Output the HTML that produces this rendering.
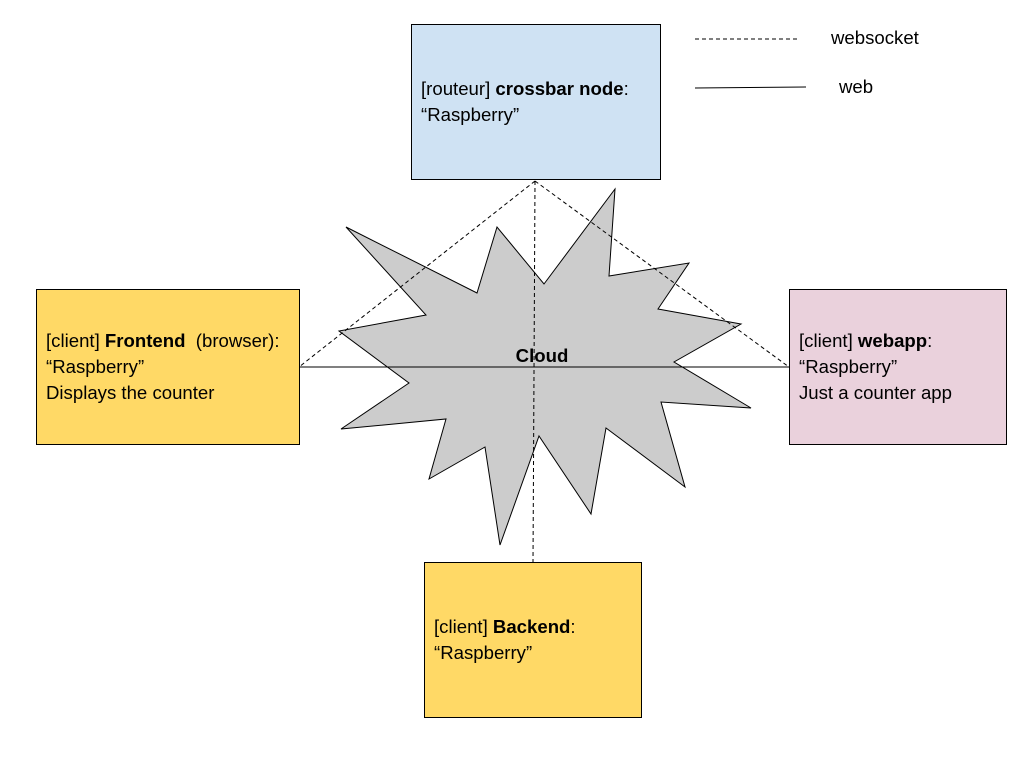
<!DOCTYPE html>
<html><head><style>
body{margin:0;width:1024px;height:768px;background:#fff;position:relative;overflow:hidden;font-family:"Liberation Sans",Arial,sans-serif;}
.b{position:absolute;box-sizing:border-box;border:1px solid #000;font-size:18.6px;line-height:26px;padding-left:9px;display:flex;flex-direction:column;justify-content:center;white-space:nowrap;}
.t{position:absolute;font-size:18.6px;}
</style></head><body>
<svg width="1024" height="768" style="position:absolute;left:0;top:0">
<polygon points="346,227 477,293 497,227 544,284 615,189 609,276 689,263 658,309 741,324 674,362 751,408 661,402 685,487 606,428 591,514 539,436 500,545 485,447 429,479 446,419 341,429 409,383 339,331 426,315" fill="#cccccc" stroke="#000" stroke-width="1"/>
<g stroke="#000" stroke-width="1" fill="none">
<path d="M535,181 L299,367 M535,181 L789,367 M535,181 L533,562" stroke-dasharray="4,3"/>
<path d="M299,367 L789,367"/>
<path d="M695,39 L797,39" stroke-dasharray="4,3"/>
<path d="M695,88 L806,87"/>
</g>
<text x="542" y="362" font-family="Liberation Sans,Arial,sans-serif" font-size="18.6" font-weight="bold" text-anchor="middle">Cloud</text>
</svg>
<div class="b" style="left:411px;top:24px;width:250px;height:156px;background:#cfe2f3"><div>[routeur] <b>crossbar node</b>:</div><div>“Raspberry”</div></div>
<div class="b" style="left:36px;top:289px;width:264px;height:156px;background:#ffd966"><div>[client] <b>Frontend</b>&nbsp; (browser):</div><div>“Raspberry”</div><div>Displays the counter</div></div>
<div class="b" style="left:789px;top:289px;width:218px;height:156px;background:#ead1dc"><div>[client] <b>webapp</b>:</div><div>“Raspberry”</div><div>Just a counter app</div></div>
<div class="b" style="left:424px;top:562px;width:218px;height:156px;background:#ffd966"><div>[client] <b>Backend</b>:</div><div>“Raspberry”</div></div>
<div class="t" style="left:831px;top:27px">websocket</div>
<div class="t" style="left:839px;top:76px">web</div>
</body></html>
